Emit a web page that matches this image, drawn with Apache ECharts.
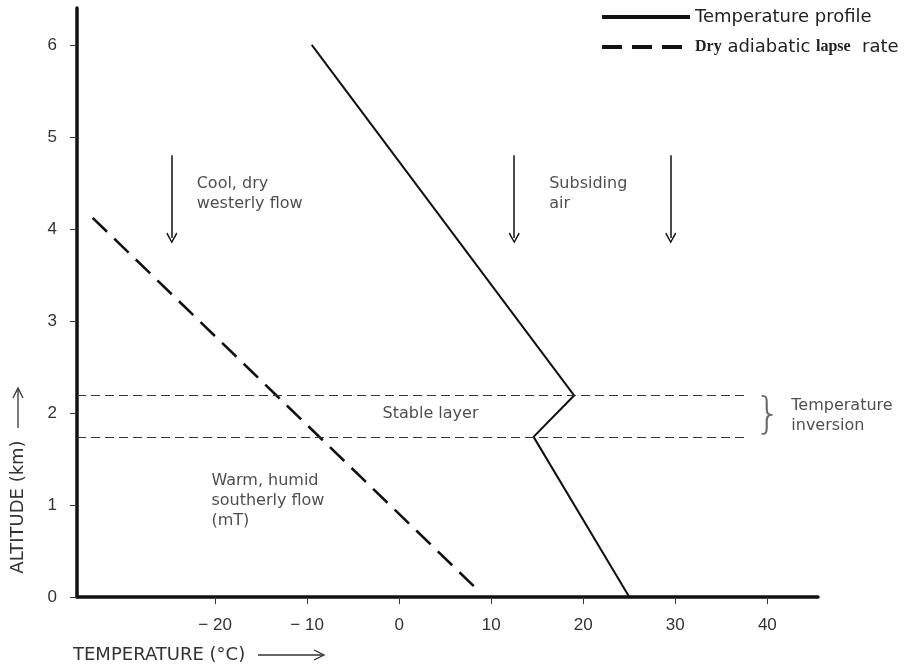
<!DOCTYPE html>
<html>
<head>
<meta charset="utf-8">
<script src="https://cdn.jsdelivr.net/npm/echarts@6/dist/echarts.min.js"></script>
<style>
  html, body { margin: 0; background: #fff; }
  #main { width: 912px; height: 669px; }
</style>
</head>
<body>
<div id="main"></div>
<script>
  // temperature profile (deg C, km)
  var profileTemp = [-9.5, 19, 14.6, 25]
  var profileAlt = [6.0, 2.19, 1.74, 0]
  // dry adiabatic lapse rate
  var dryTemp = [-33.3, 8.5]
  var dryAlt = [4.12, 0.08]
  // stable layer (inversion) bounds
  var layerAlt = [2.19, 1.74]
  var layerFrom = -35
  var layerTo = 37.5
  // subsiding / flow arrows
  var arrowTemp = [-24.7, 12.5, 29.5]
  var arrowTop = 4.8
  var arrowBottom = 3.9
  // tick labels
  var xTicks = [-20, -10, 0, 10, 20, 30, 40]
  var yTicks = [0, 1, 2, 3, 4, 5, 6]
  // annotation texts [temp, alt, text]
  var notes = [
    [-22.0, 4.38, 'Cool, dry\nwesterly flow'],
    [16.3, 4.38, 'Subsiding\nair'],
    [-20.4, 1.04, 'Warm, humid\nsoutherly flow\n(mT)'],
    [-1.8, 1.99, 'Stable layer'],
    [42.6, 1.97, 'Temperature\ninversion']
  ]
  var brace = [38.6, 1.96]

  var chevron = 'path://M5,0 L10,9 L9,10 L5,2.5 L1,10 L0,9 Z'

  function pairs (xs, ys) {
    var out = []
    for (var i = 0; i < xs.length; i++) {
      out.push([xs[i], ys[i]])
    }
    return out
  }

  var markData = []
  arrowTemp.forEach(function (t) {
    markData.push([
      {coord: [t, arrowTop], symbol: 'none'},
      {coord: [t, arrowBottom], symbol: chevron, symbolSize: [11, 11]}
    ])
  })
  layerAlt.forEach(function (a) {
    markData.push([
      {coord: [layerFrom, a], symbol: 'none', lineStyle: {type: [9, 5], width: 1.2, color: '#333'}},
      {coord: [layerTo, a], symbol: 'none'}
    ])
  })

  var noteData = notes.map(function (n) {
    return {value: [n[0], n[1]], label: {formatter: n[2]}}
  })
  noteData.push({
    value: brace,
    label: {formatter: '}', fontSize: 42, fontFamily: 'DejaVu Sans', fontWeight: 'lighter', color: '#444'}
  })

  var myChart = echarts.init(document.getElementById('main'))

  myChart.setOption({
    animation: false,
    backgroundColor: '#fff',
    grid: {left: 77, right: 94, top: 8, bottom: 72},
    legend: {
      orient: 'vertical',
      left: 595,
      top: 3,
      itemWidth: 88,
      itemHeight: 14,
      itemGap: 12,
      lineStyle: {width: 4},
      itemStyle: {opacity: 0},
      data: ['Temperature profile', 'Dry adiabatic lapse rate'],
      formatter: function (name) {
        if (name === 'Dry adiabatic lapse rate') {
          return '{b|Dry} adiabatic {b|lapse}  rate'
        }
        return name
      },
      textStyle: {
        fontFamily: 'DejaVu Sans',
        fontSize: 18,
        color: '#222',
        rich: {
          b: {fontFamily: 'Liberation Serif', fontWeight: 'bold', fontSize: 16, color: '#222'}
        }
      }
    },
    xAxis: {
      type: 'value',
      min: -35,
      max: 45.5,
      splitLine: {show: false},
      axisLine: {onZero: false, lineStyle: {color: '#111', width: 3.5}},
      axisTick: {customValues: xTicks, length: 7, lineStyle: {color: '#333', width: 1}},
      axisLabel: {
        customValues: xTicks,
        margin: 20,
        fontFamily: 'Liberation Sans',
        fontSize: 17,
        color: '#333',
        formatter: function (v) {
          return v < 0 ? '\u2212 ' + Math.abs(v) : String(v)
        }
      }
    },
    yAxis: {
      type: 'value',
      min: 0,
      max: 6.4,
      splitLine: {show: false},
      axisLine: {onZero: false, lineStyle: {color: '#111', width: 3.5}},
      axisTick: {customValues: yTicks, length: 7, lineStyle: {color: '#333', width: 1}},
      axisLabel: {
        customValues: yTicks,
        margin: 20,
        fontFamily: 'Liberation Sans',
        fontSize: 17,
        color: '#333'
      }
    },
    series: [
      {
        name: 'Temperature profile',
        type: 'line',
        data: pairs(profileTemp, profileAlt),
        symbol: 'none',
        lineStyle: {color: '#111', width: 2},
        itemStyle: {color: '#111'}
      },
      {
        name: 'Dry adiabatic lapse rate',
        type: 'line',
        data: pairs(dryTemp, dryAlt),
        symbol: 'none',
        lineStyle: {color: '#111', width: 2.6, type: [20, 10]},
        itemStyle: {color: '#111'}
      },
      {
        name: 'marks',
        type: 'line',
        data: [],
        markLine: {
          silent: true,
          animation: false,
          label: {show: false},
          lineStyle: {color: '#111', width: 1.5, type: 'solid'},
          data: markData
        }
      },
      {
        name: 'notes',
        type: 'scatter',
        symbolSize: 0,
        silent: true,
        data: noteData,
        label: {
          show: true,
          position: 'right',
          distance: 0,
          fontFamily: 'DejaVu Sans',
          fontSize: 16,
          lineHeight: 20,
          color: '#222'
        }
      }
    ],
    graphic: [
      {
        type: 'text',
        x: 18,
        y: 507,
        rotation: Math.PI / 2,
        style: {
          text: 'ALTITUDE (km)',
          fontFamily: 'DejaVu Sans',
          fontSize: 18,
          fill: '#333',
          align: 'center',
          verticalAlign: 'middle'
        }
      },
      {type: 'line', shape: {x1: 18, y1: 428, x2: 18, y2: 389}, style: {stroke: '#333', lineWidth: 1.3}},
      {type: 'polyline', shape: {points: [[13, 398], [18, 388], [23, 398]]}, style: {stroke: '#333', lineWidth: 1.3, fill: null}},
      {
        type: 'text',
        x: 73,
        y: 655,
        style: {
          text: 'TEMPERATURE (\u00b0C)',
          fontFamily: 'DejaVu Sans',
          fontSize: 18,
          fill: '#333',
          align: 'left',
          verticalAlign: 'middle'
        }
      },
      {type: 'line', shape: {x1: 258, y1: 655, x2: 323, y2: 655}, style: {stroke: '#333', lineWidth: 1.3}},
      {type: 'polyline', shape: {points: [[314, 650], [324, 655], [314, 660]]}, style: {stroke: '#333', lineWidth: 1.3, fill: null}}
    ]
  })
</script>
</body>
</html>
